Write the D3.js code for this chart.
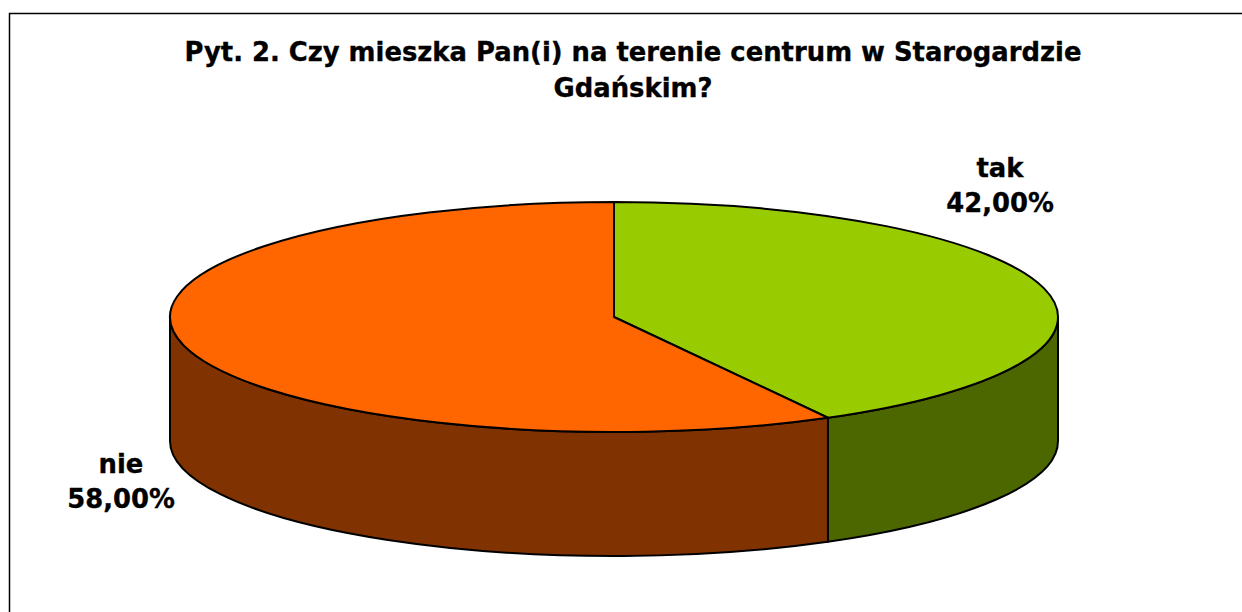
<!DOCTYPE html>
<html>
<head>
<meta charset="utf-8">
<script src="https://cdn.jsdelivr.net/npm/d3@7"></script>
<style>
  html, body { margin: 0; padding: 0; background: #fff; }
  svg { display: block; }
  text { font-family: "DejaVu Sans", Verdana, sans-serif; font-weight: bold; fill: #000; stroke: #000; stroke-width: 0.35px; }
</style>
</head>
<body>
<svg id="chart" width="1242" height="612"></svg>
<script>
const categories = ["tak", "nie"];
const values = [42.00, 58.00];
const labelTexts = ["42,00%", "58,00%"];
const topColors = ["#99CC00", "#FF6600"];
const sideColors = ["#4C6600", "#803300"];
const titleLines = ["Pyt. 2. Czy mieszka Pan(i) na terenie centrum w Starogardzie", "Gdańskim?"];

const svg = d3.select("#chart");

// frame (extends beyond viewport on right/bottom)
svg.append("rect").attr("x", 9.5).attr("y", 13.5).attr("width", 1260).attr("height", 620)
  .attr("fill", "#fff").attr("stroke", "#000").attr("stroke-width", 1.5);

// title
const titleG = svg.append("g");
const tl = titleG.selectAll("text").data(titleLines).join("text")
  .attr("x", 633).attr("y", (d, i) => 61 + i * 35.5)
  .attr("text-anchor", "middle").attr("font-size", 27).text(d => d);
const natural = tl.nodes()[0].getComputedTextLength();
const factor = 897 / natural;
tl.each(function() {
  const w = this.getComputedTextLength();
  d3.select(this).attr("textLength", w * factor).attr("lengthAdjust", "spacingAndGlyphs");
});

// 3D pie
const cx = 614, cy = 317, rx = 444, ry = 115, depth = 124;
const pie = d3.pie().sort(null).startAngle(0).endAngle(2 * Math.PI);
const arcs = pie(values);
const px = a => cx + rx * Math.sin(a);
const py = a => cy - ry * Math.cos(a);

function sidePath(a0, a1) {
  const s = Math.max(a0, Math.PI / 2), e = Math.min(a1, 3 * Math.PI / 2);
  if (s >= e) return null;
  const large = (e - s) > Math.PI ? 1 : 0;
  return `M${px(s)},${py(s)} A${rx},${ry} 0 ${large} 1 ${px(e)},${py(e)}` +
         ` L${px(e)},${py(e) + depth} A${rx},${ry} 0 ${large} 0 ${px(s)},${py(s) + depth} Z`;
}
function topPath(a0, a1) {
  const large = (a1 - a0) > Math.PI ? 1 : 0;
  return `M${cx},${cy} L${px(a0)},${py(a0)} A${rx},${ry} 0 ${large} 1 ${px(a1)},${py(a1)} Z`;
}

const g = svg.append("g");
g.selectAll("path.side").data(arcs).join("path")
  .attr("class", "side")
  .attr("d", d => sidePath(d.startAngle, d.endAngle))
  .attr("fill", (d, i) => sideColors[i])
  .attr("stroke", "#000").attr("stroke-width", 2).attr("stroke-linejoin", "round");
g.selectAll("path.top").data(arcs).join("path")
  .attr("class", "top")
  .attr("d", d => topPath(d.startAngle, d.endAngle))
  .attr("fill", (d, i) => topColors[i])
  .attr("stroke", "#000").attr("stroke-width", 2).attr("stroke-linejoin", "round");

// labels
const labelPos = [{x: 1000, y: 177}, {x: 121, y: 473}];
const lg = svg.append("g");
arcs.forEach((d, i) => {
  const t1 = lg.append("text").attr("x", labelPos[i].x).attr("y", labelPos[i].y)
    .attr("text-anchor", "middle").attr("font-size", 27).text(categories[i]);
  const t2 = lg.append("text").attr("x", labelPos[i].x).attr("y", labelPos[i].y + 34.5)
    .attr("text-anchor", "middle").attr("font-size", 27).text(labelTexts[i]);
  [t1, t2].forEach(t => {
    const w = t.node().getComputedTextLength();
    t.attr("textLength", w * factor).attr("lengthAdjust", "spacingAndGlyphs");
  });
});
</script>
</body>
</html>
